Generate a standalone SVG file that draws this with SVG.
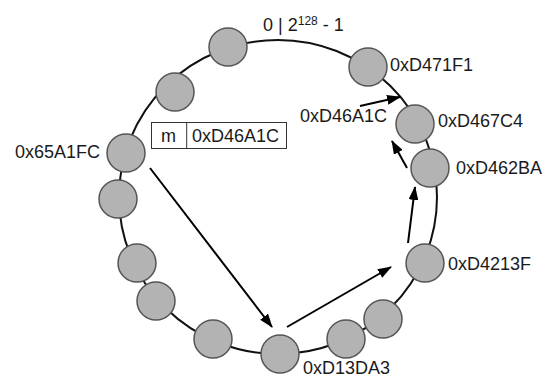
<svg xmlns="http://www.w3.org/2000/svg" width="546" height="378" viewBox="0 0 546 378">
<style>
.node{fill:#b3b3b3;stroke:#555;stroke-width:1.5}
.lbl{font-family:"Liberation Sans",Arial,sans-serif;font-size:18px;fill:#1a1a1a}
.ring{fill:none;stroke:#111;stroke-width:2}
.arr{stroke:#000;stroke-width:2;fill:none;marker-end:url(#ah)}
</style>
<defs>
<marker id="ah" viewBox="0 0 14 10" refX="13" refY="5" markerWidth="14" markerHeight="10" markerUnits="userSpaceOnUse" orient="auto">
<path d="M0,0 L14,5 L0,10 z" fill="#000"/>
</marker>
</defs>
<rect width="546" height="378" fill="#fff"/>
<ellipse class="ring" cx="278" cy="197" rx="159" ry="157"/>
<text class="lbl" x="263" y="31">0 | 2<tspan font-size="12" dy="-6">128</tspan><tspan dy="6"> - 1</tspan></text>
<g id="connectors">
<line class="arr" x1="150" y1="168" x2="272" y2="327"/>
<line class="arr" x1="287" y1="327" x2="391" y2="267"/>
<line class="arr" x1="408" y1="243" x2="415" y2="187"/>
<line class="arr" x1="407" y1="168" x2="392" y2="141"/>
<line class="arr" x1="360" y1="106" x2="400" y2="97" stroke-width="3"/>
</g>
<g id="n1"><circle class="node" cx="228" cy="47" r="19"/></g>
<g id="n2"><circle class="node" cx="175" cy="92" r="19"/></g>
<g id="n3"><circle class="node" cx="126" cy="153" r="19"/><text class="lbl" x="100" y="158" text-anchor="end">0x65A1FC</text></g>
<g id="n4"><circle class="node" cx="118" cy="199" r="19"/></g>
<g id="n5"><circle class="node" cx="137" cy="263" r="19"/></g>
<g id="n6"><circle class="node" cx="156" cy="301" r="19"/></g>
<g id="n7"><circle class="node" cx="213" cy="339" r="19"/></g>
<g id="n8"><circle class="node" cx="280" cy="354" r="19"/><text class="lbl" x="303" y="374">0xD13DA3</text></g>
<g id="n9"><circle class="node" cx="346" cy="339" r="19"/></g>
<g id="n10"><circle class="node" cx="383" cy="319" r="19"/></g>
<g id="n11"><circle class="node" cx="425" cy="263" r="19"/><text class="lbl" x="448" y="270">0xD4213F</text></g>
<g id="n12"><circle class="node" cx="430" cy="168" r="19"/><text class="lbl" x="456" y="174">0xD462BA</text></g>
<g id="n13"><circle class="node" cx="415" cy="124" r="19"/><text class="lbl" x="438" y="127">0xD467C4</text></g>
<g id="n14"><circle class="node" cx="368" cy="67" r="19"/><text class="lbl" x="390" y="71">0xD471F1</text></g>
<g id="key"><text class="lbl" x="300" y="122">0xD46A1C</text></g>
<g id="msg">
<rect x="151.5" y="122.5" width="135" height="26" fill="#fff" stroke="#333" stroke-width="1"/>
<line x1="186.7" y1="122.5" x2="186.7" y2="148.5" stroke="#333" stroke-width="1"/>
<text class="lbl" x="168.5" y="142" text-anchor="middle">m</text>
<text class="lbl" x="192" y="142">0xD46A1C</text>
</g>
</svg>
